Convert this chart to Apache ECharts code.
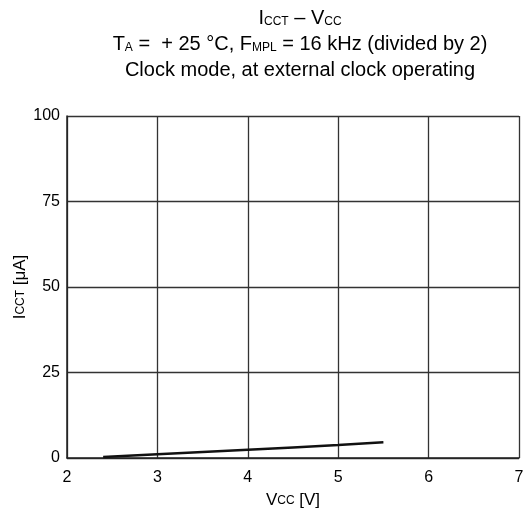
<!DOCTYPE html>
<html>
<head>
<meta charset="utf-8">
<script src="https://cdn.jsdelivr.net/npm/echarts@6/dist/echarts.min.js"></script>
<style>
  html, body { margin: 0; padding: 0; background: #fff; }
  #chart { width: 527px; height: 517px; }
</style>
</head>
<body>
<div id="chart"></div>
<script>
// ICCT - VCC curve
var vcc = [2.4, 3, 4, 5, 5.5];
var icct = [0.3, 1.1, 2.4, 3.8, 4.6];
var xTicks = [2, 3, 4, 5, 6, 7];
var yTicks = [0, 25, 50, 75, 100];

var font = 'Liberation Sans, Arial, sans-serif';
var sub = { fontSize: 12, fontFamily: font, color: '#000', verticalAlign: 'bottom', padding: [0, 0, 3, 0] };
var big = { fontSize: 20, fontFamily: font, color: '#000' };
var nameBig = { fontSize: 17, fontFamily: font, color: '#000', fontWeight: 'normal' };
var subSmall = { fontSize: 12, fontFamily: font, color: '#000', fontWeight: 'normal', verticalAlign: 'bottom', padding: [0, 0, 2, 0] };

var chart = echarts.init(document.getElementById('chart'));
chart.setOption({
  animation: false,
  title: {
    text: '{b|I}{s|CCT}{b| – V}{s|CC}\n{b|T}{s|A}{b| =  + 25 °C, F}{s|MPL}{b| = 16 kHz (divided by 2)}\n{b|Clock mode, at external clock operating}',
    left: 295,
    top: 0,
    textAlign: 'center',
    textStyle: {
      fontFamily: font,
      fontWeight: 'normal',
      fontSize: 20,
      color: '#000',
      lineHeight: 26,
      rich: { b: big, s: sub }
    }
  },
  grid: { left: 67, right: 8, top: 116, bottom: 59, outerBoundsMode: 'none', containLabel: false },
  xAxis: {
    type: 'value',
    min: 2, max: 7, interval: 1,
    name: '{n|V}{s|CC}{n| [V]}',
    nameLocation: 'middle',
    nameGap: 34,
    nameMoveOverlap: false,
    nameTextStyle: { fontFamily: font, fontSize: 17, color: '#000', rich: { n: nameBig, s: subSmall } },
    axisLine: { lineStyle: { color: '#222', width: 1.5 } },
    axisTick: { show: false },
    axisLabel: { fontFamily: font, fontSize: 16, color: '#000', margin: 12 },
    splitLine: { lineStyle: { color: '#333', width: 1.3 } }
  },
  yAxis: {
    type: 'value',
    min: 0, max: 100, interval: 25,
    name: '{n|I}{s|CCT}{n| [μA]}',
    nameLocation: 'middle',
    nameGap: 38,
    nameMoveOverlap: false,
    nameTextStyle: { fontFamily: font, fontSize: 17, color: '#000', rich: { n: nameBig, s: subSmall } },
    axisLine: { show: true, lineStyle: { color: '#222', width: 1.5 } },
    axisTick: { show: false },
    axisLabel: { fontFamily: font, fontSize: 16, color: '#000', margin: 7 },
    splitLine: { lineStyle: { color: '#333', width: 1.3 } }
  },
  series: [{
    type: 'line',
    data: vcc.map(function (v, i) { return [v, icct[i]]; }),
    showSymbol: false,
    smooth: true,
    lineStyle: { color: '#111', width: 2.5 }
  }]
});
</script>
</body>
</html>
